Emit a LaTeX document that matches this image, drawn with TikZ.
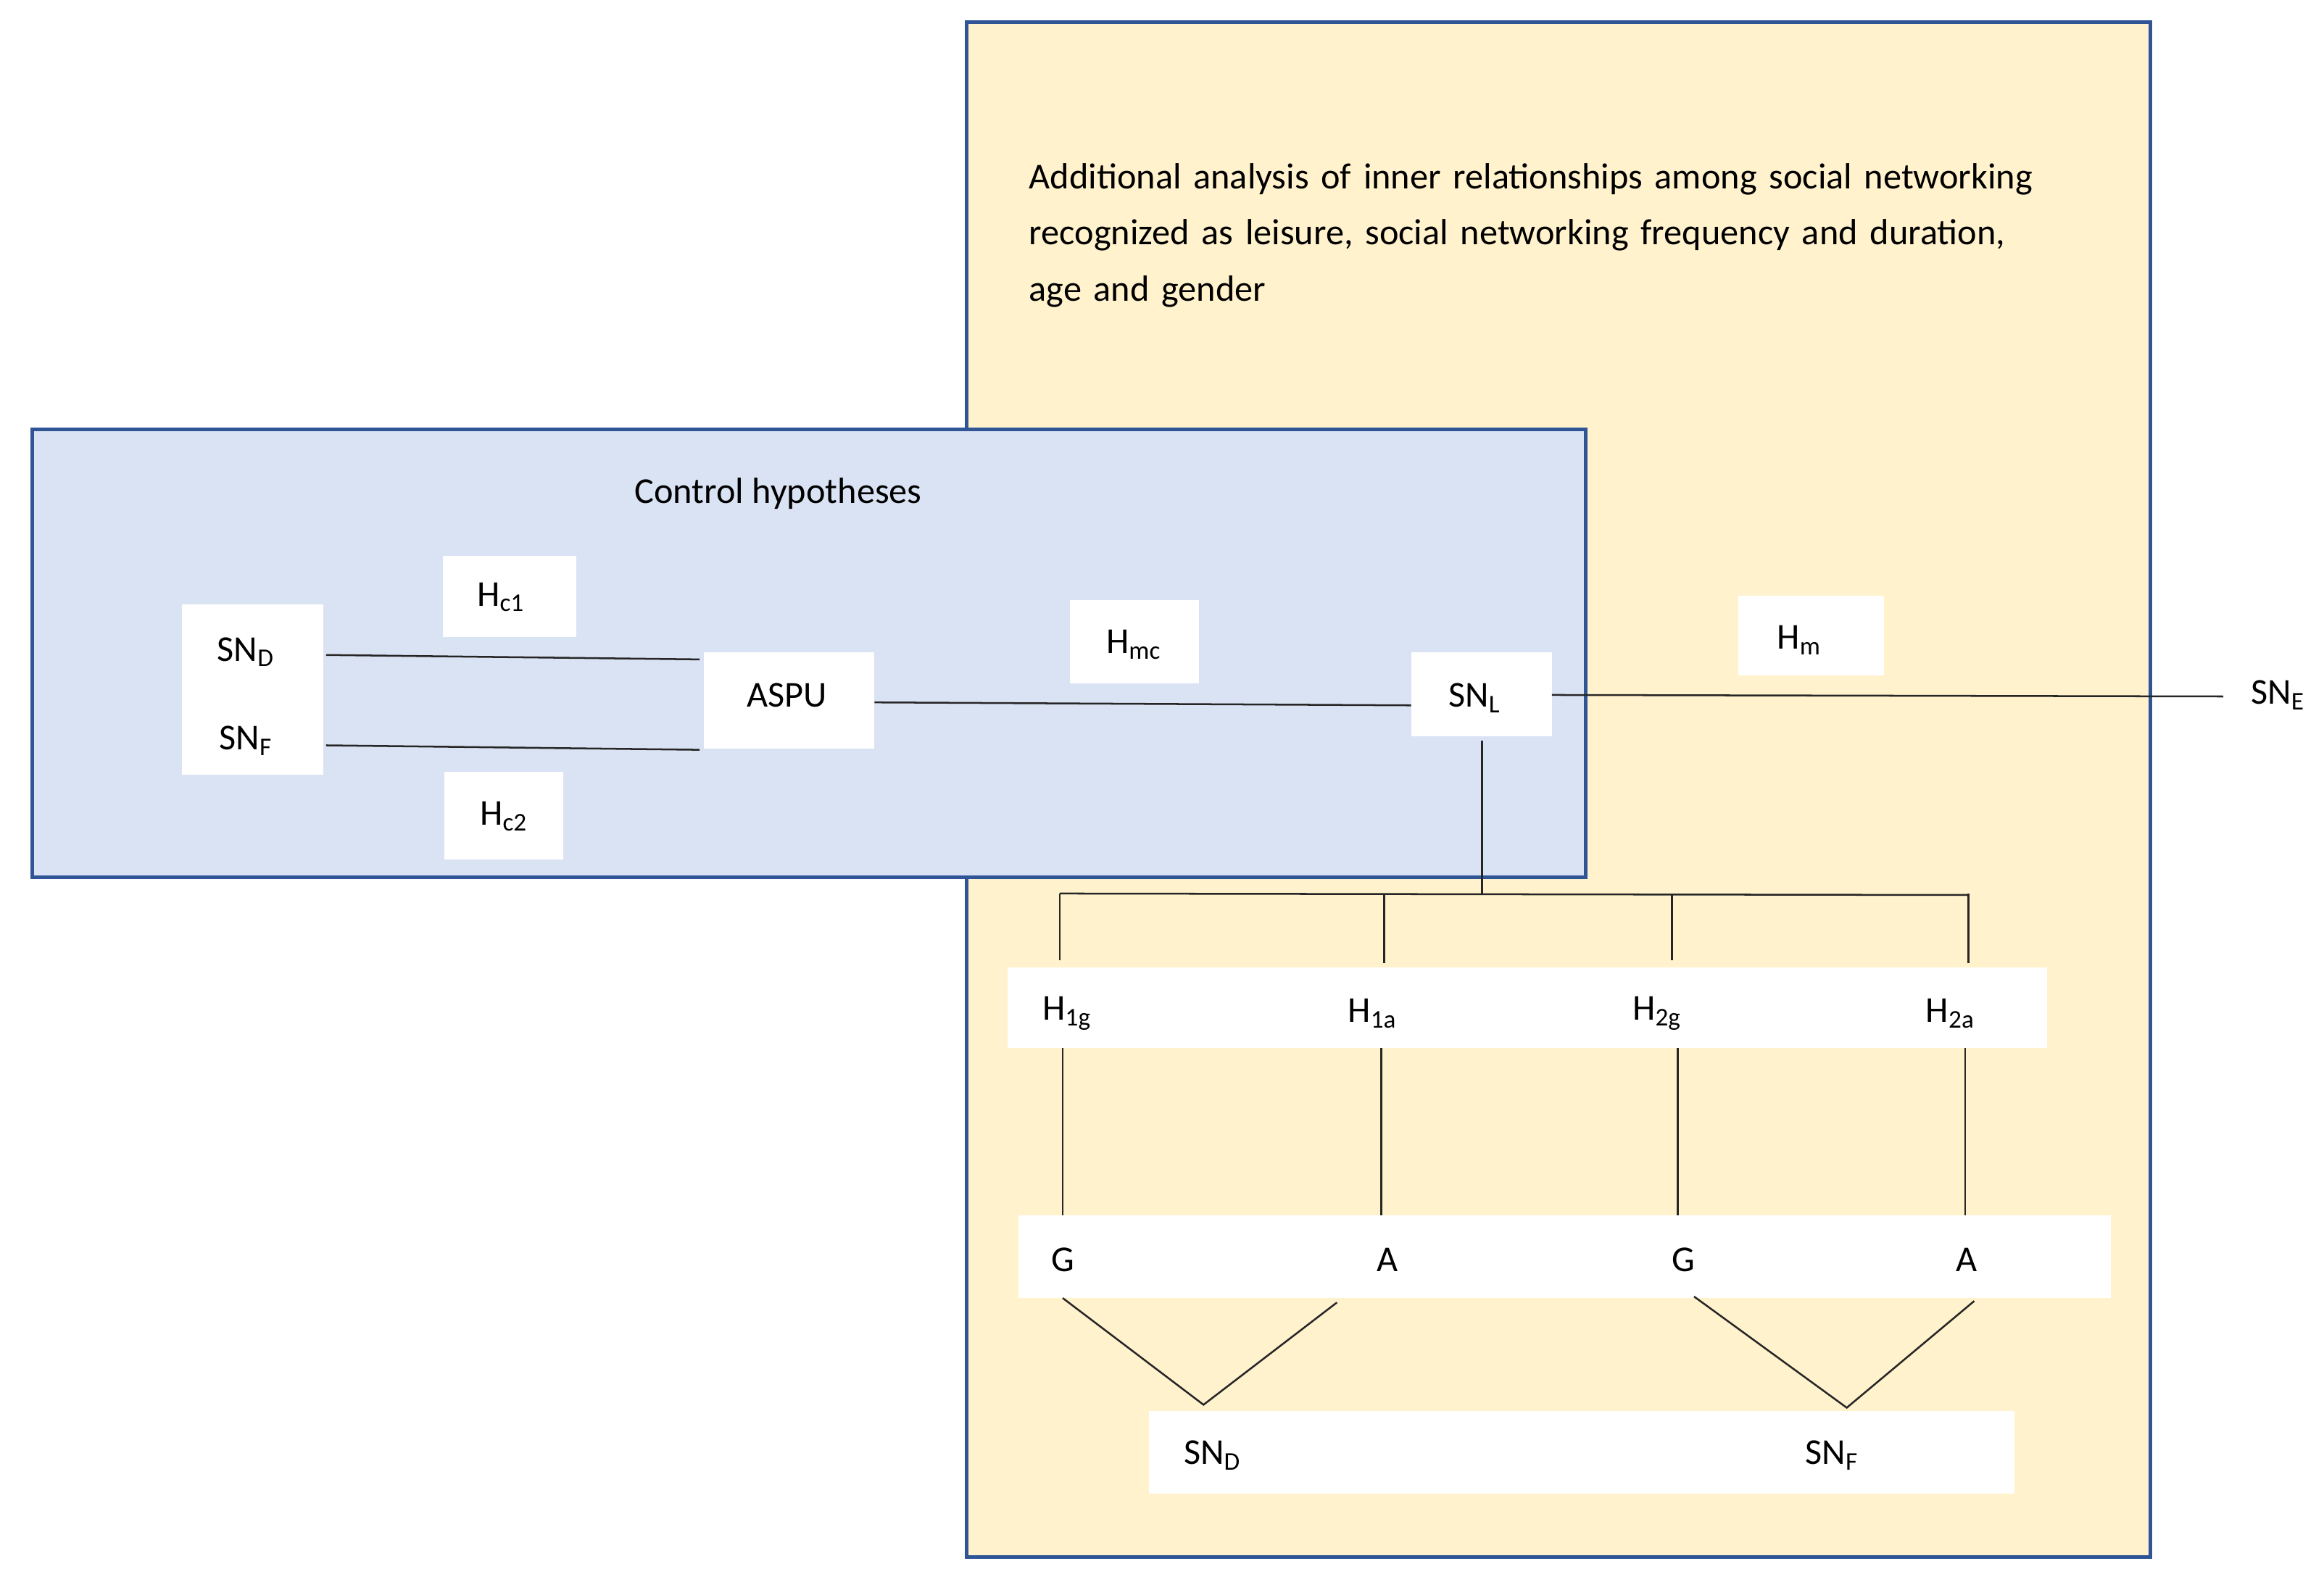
\documentclass[tikz,border=0pt]{standalone}
\usepackage{fontspec}
\setmainfont{Carlito}
\begin{document}
\begin{tikzpicture}[x=0.02cm,y=-0.02cm,
  frame/.style={draw=blue!40!black!80!cyan, line width=1.3pt},
  wb/.style={fill=white,draw=none},
  lbl/.style={font=\fontsize{14}{17}\selectfont, inner sep=0pt},
  ln/.style={draw=black!85,line width=0.7pt}]
\definecolor{bord}{HTML}{2F5597}
\useasboundingbox (0,0) rectangle (1568,1073);
\fill[white] (0,0) rectangle (1568,1073);
\draw[fill={rgb,255:red,255;green,242;blue,204},draw=bord,line width=1.4pt] (652,15) rectangle (1451,1051);
\node[lbl,anchor=north west,align=left,text width=700*0.02cm,font=\fontsize{14}{21.5}\selectfont] (desc) at (694,110) {Additional analysis of inner relationships among social networking recognized as leisure, social networking frequency and duration, age and gender};
\draw[fill={rgb,255:red,218;green,227;blue,243},draw=bord,line width=1.4pt] (22,290) rectangle (1070,592);
\node[lbl] (ctl) at (525,333) {Control hypotheses};
% white boxes
\fill[wb] (123,408) rectangle (218,523);
\fill[wb] (299,375) rectangle (389,430);
\fill[wb] (300,521) rectangle (380,580);
\fill[wb] (475,440) rectangle (590,505);
\fill[wb] (722,405) rectangle (809,461);
\fill[wb] (952,440) rectangle (1047,497);
\fill[wb] (1173,402) rectangle (1271,456);
\fill[wb] (680,653) rectangle (1381,707);
\fill[wb] (687,820) rectangle (1424,876);
\fill[wb] (775,952) rectangle (1359,1008);
% labels
\node[lbl] (snd1) at (166,440) {SN\textsubscript{D}};
\node[lbl] (snf1) at (166,500) {SN\textsubscript{F}};
\node[lbl] (hc1) at (338,403) {H\textsubscript{c1}};
\node[lbl] (hc2) at (340,551) {H\textsubscript{c2}};
\node[lbl] (aspu) at (531,469) {ASPU};
\node[lbl] (hmc) at (765,435) {H\textsubscript{mc}};
\node[lbl] (snl) at (995,471) {SN\textsubscript{L}};
\node[lbl] (hm) at (1214,432) {H\textsubscript{m}};
\node[lbl] (sne) at (1537,469) {SN\textsubscript{E}};
\node[lbl] (h1g) at (720,684) {H\textsubscript{1g}};
\node[lbl] (h1a) at (926,684) {H\textsubscript{1a}};
\node[lbl] (h2g) at (1118,684) {H\textsubscript{2g}};
\node[lbl] (h2a) at (1316,684) {H\textsubscript{2a}};
\node[lbl] (g1) at (717,850) {G};
\node[lbl] (a1) at (936,850) {A};
\node[lbl] (g2) at (1136,850) {G};
\node[lbl] (a2) at (1327,850) {A};
\node[lbl] (snd2) at (818,982) {SN\textsubscript{D}};
\node[lbl] (snf2) at (1236,982) {SN\textsubscript{F}};
% connector coordinates
\coordinate (p1) at (220,442); \coordinate (p2) at (472,445);
\coordinate (p3) at (220,503); \coordinate (p4) at (472,506);
\coordinate (p5) at (590,474); \coordinate (p6) at (952,476);
\coordinate (p7) at (1047,469); \coordinate (p8) at (1500,470);
\coordinate (p9) at (1000,500); \coordinate (bus) at (1000,603);
\coordinate (b1) at (715,603); \coordinate (b4) at (1328,604);
\draw[ln] (p1)--(p2); \draw[ln] (p3)--(p4); \draw[ln] (p5)--(p6); \draw[ln] (p7)--(p8);
\draw[ln] (p9)--(bus); \draw[ln] (b1)--(b4);
\foreach \x/\y in {715/648,934/650,1128/648,1328/650}{\draw[ln] (\x,603)--(\x,\y);}
\foreach \x in {717,932,1132,1326}{\draw[ln] (\x,707)--(\x,820);}
\coordinate (j1) at (812,948); \coordinate (j2) at (1246,950);
\draw[ln] (717,876)--(j1)--(902,879);
\draw[ln] (1143,875)--(j2)--(1332,878);
\end{tikzpicture}
\end{document}
